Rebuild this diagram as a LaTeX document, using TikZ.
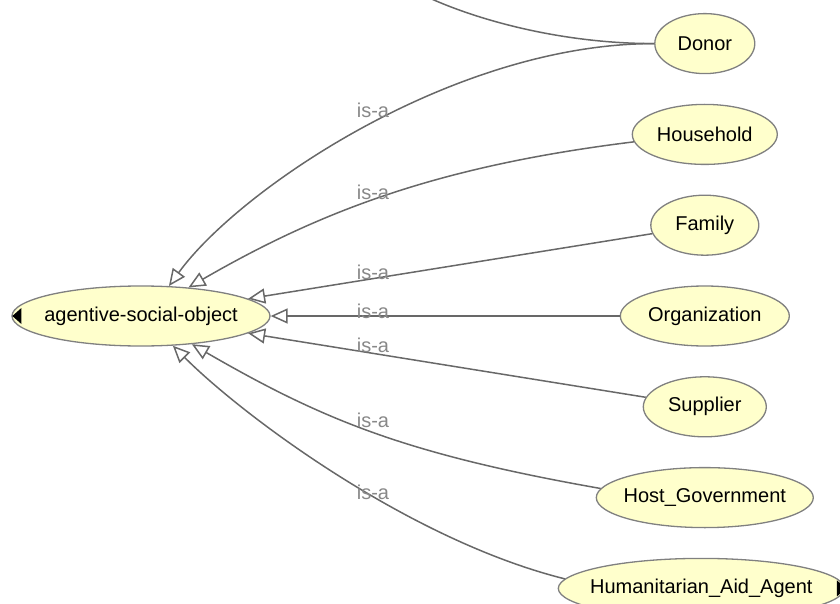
\documentclass[tikz,border=0pt]{standalone}
\usepackage{fontspec}
\setmainfont{Liberation Sans}
\usepackage{xcolor}
\usetikzlibrary{arrows.meta,positioning,shapes.geometric}
\definecolor{conceptfill}{RGB}{255,255,204}
\definecolor{conceptline}{RGB}{128,128,128}
\definecolor{edgeline}{RGB}{104,104,104}
\definecolor{labelgray}{RGB}{136,136,136}

\begin{document}
\begin{tikzpicture}[
    x=1pt, y=1pt,
    font=\fontsize{20}{24}\selectfont,
    node distance=29.5pt and 349pt,
    concept/.style={ellipse, draw=conceptline, fill=conceptfill, line width=1.3pt, minimum height=60pt, inner xsep=-30pt, inner ysep=0pt},
    isalabel/.style={text=labelgray, inner sep=0pt},
    isaline/.style={draw=edgeline, line width=1.5pt},
    isaarrow/.style={isaline, -{Triangle[open, length=17pt, width=15pt]}},
    marker/.style={fill=black}
]
\useasboundingbox (0,0) rectangle (840,-604);
\clip (0,0) rectangle (840,-604);
% concepts
\node[concept, minimum width=258pt] (aso) at (141,-316) {agentive-social-object};
\node[concept, minimum width=169pt, right=of aso] (org) {Organization};
\node[concept, minimum width=108pt, above=of org] (family) {Family};
\node[concept, minimum width=145pt, above=of family] (household) {Household};
\node[concept, minimum width=100pt, above=of household] (donor) {Donor};
\node[concept, minimum width=123pt, below=of org] (supplier) {Supplier};
\node[concept, minimum width=217pt, below=of supplier] (hostgov) {Host\_Government};
\node[concept, minimum width=286pt, below=of hostgov, xshift=-3.5pt] (haa) {Humanitarian\_Aid\_Agent};
\coordinate (offtop) at (425,4);
% hidden-link markers
\fill[marker] ([xshift=10pt, yshift=8pt]aso.west) -- ([xshift=10pt, yshift=-8pt]aso.west) -- ([xshift=1pt]aso.west) -- cycle;
\fill[marker] ([xshift=-8pt, yshift=8pt]haa.east) -- ([xshift=-8pt, yshift=-8pt]haa.east) -- ([xshift=1pt]haa.east) -- cycle;
% is-a edges
\draw[isaline] (donor.west) .. controls +(180:90) and +(-25:60) .. (offtop);
\draw[isaarrow] (donor.west) .. controls +(180:200) and +(54:120) .. (aso.47);
\draw[isaarrow] (household.186) .. controls +(187:200) and +(30:150) .. (aso.31);
\draw[isaarrow] (family) -- (aso);
\draw[isaarrow] (org) -- (aso);
\draw[isaarrow] (supplier) -- (aso);
\draw[isaarrow] (hostgov.175) .. controls +(170:200) and +(-30:150) .. (aso.-29);
\draw[isaarrow] (haa.176) .. controls +(166:160) and +(-45:100) .. (aso.-43);
% labels
\node[isalabel] (isadonor) at (373,-110) {is-a};
\node[isalabel] (isahousehold) at (373,-192) {is-a};
\node[isalabel] (isafamily) at (373,-272) {is-a};
\node[isalabel] (isaorg) at (373,-311) {is-a};
\node[isalabel] (isasupplier) at (373,-345) {is-a};
\node[isalabel] (isahostgov) at (373,-420) {is-a};
\node[isalabel] (isahaa) at (373,-492) {is-a};
\end{tikzpicture}
\end{document}
